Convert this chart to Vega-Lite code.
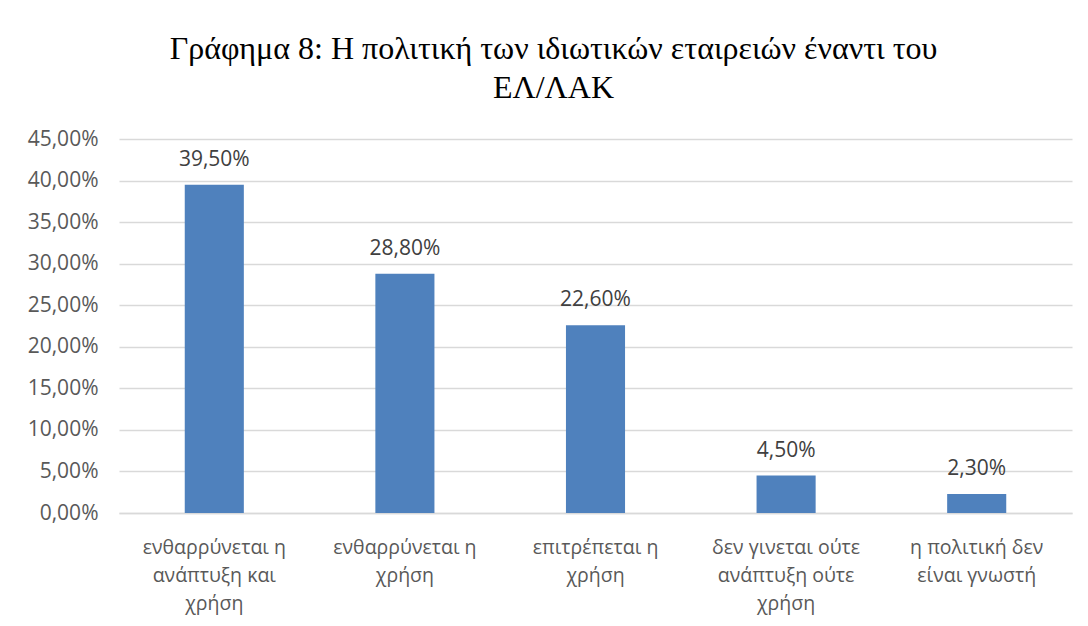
{
  "$schema": "https://vega.github.io/schema/vega-lite/v6.json",
  "width": 953,
  "height": 374,
  "padding": {"left": 27, "top": 33, "right": 17, "bottom": 5},
  "background": "white",
  "config": {
    "locale": {"number": {"decimal": ",", "thousands": ".", "grouping": [3], "currency": ["", " €"]}},
    "view": {"stroke": null},
    "font": "Open Sans"
  },
  "title": {
    "text": ["Γράφημα 8: Η πολιτική των ιδιωτικών εταιρειών έναντι του", "ΕΛ/ΛΑΚ"],
    "font": "Liberation Serif",
    "fontSize": 32,
    "fontWeight": "normal",
    "color": "#000000",
    "lineHeight": 39,
    "anchor": "middle",
    "dx": -42,
    "offset": 23
  },
  "data": {
    "values": [
      {"category": "ενθαρρύνεται η\nανάπτυξη και\nχρήση", "share": 0.395},
      {"category": "ενθαρρύνεται η\nχρήση", "share": 0.288},
      {"category": "επιτρέπεται η\nχρήση", "share": 0.226},
      {"category": "δεν γινεται ούτε\nανάπτυξη ούτε\nχρήση", "share": 0.045},
      {"category": "η πολιτική δεν\nείναι γνωστή", "share": 0.023}
    ]
  },
  "encoding": {
    "x": {
      "field": "category",
      "type": "nominal",
      "sort": null,
      "scale": {"paddingInner": 0.69, "paddingOuter": 0.345},
      "axis": {
        "title": null,
        "labelAngle": 0,
        "labelExpr": "split(datum.value, '\\n')",
        "labelFont": "Open Sans",
        "labelFontSize": 19.5,
        "labelColor": "#595959",
        "labelLineHeight": 28,
        "labelPadding": 25,
        "ticks": false,
        "domainColor": "#d9d9d9",
        "domainWidth": 1.5,
        "labelLimit": 300
      }
    },
    "y": {
      "field": "share",
      "type": "quantitative",
      "scale": {"domain": [0, 0.45]},
      "axis": {
        "title": null,
        "format": ".2%",
        "values": [0, 0.05, 0.1, 0.15, 0.2, 0.25, 0.3, 0.35, 0.4, 0.45],
        "labelFont": "Open Sans",
        "labelFontSize": 21,
        "labelColor": "#595959",
        "labelPadding": 21,
        "ticks": false,
        "domain": false,
        "gridColor": "#d9d9d9",
        "gridWidth": 1.5
      }
    }
  },
  "layer": [
    {"mark": {"type": "bar", "color": "#4F81BD"}},
    {
      "mark": {"type": "text", "baseline": "alphabetic", "dy": -19, "font": "Open Sans", "fontSize": 21, "color": "#404040"},
      "encoding": {"text": {"field": "share", "type": "quantitative", "format": ".2%"}}
    }
  ]
}
